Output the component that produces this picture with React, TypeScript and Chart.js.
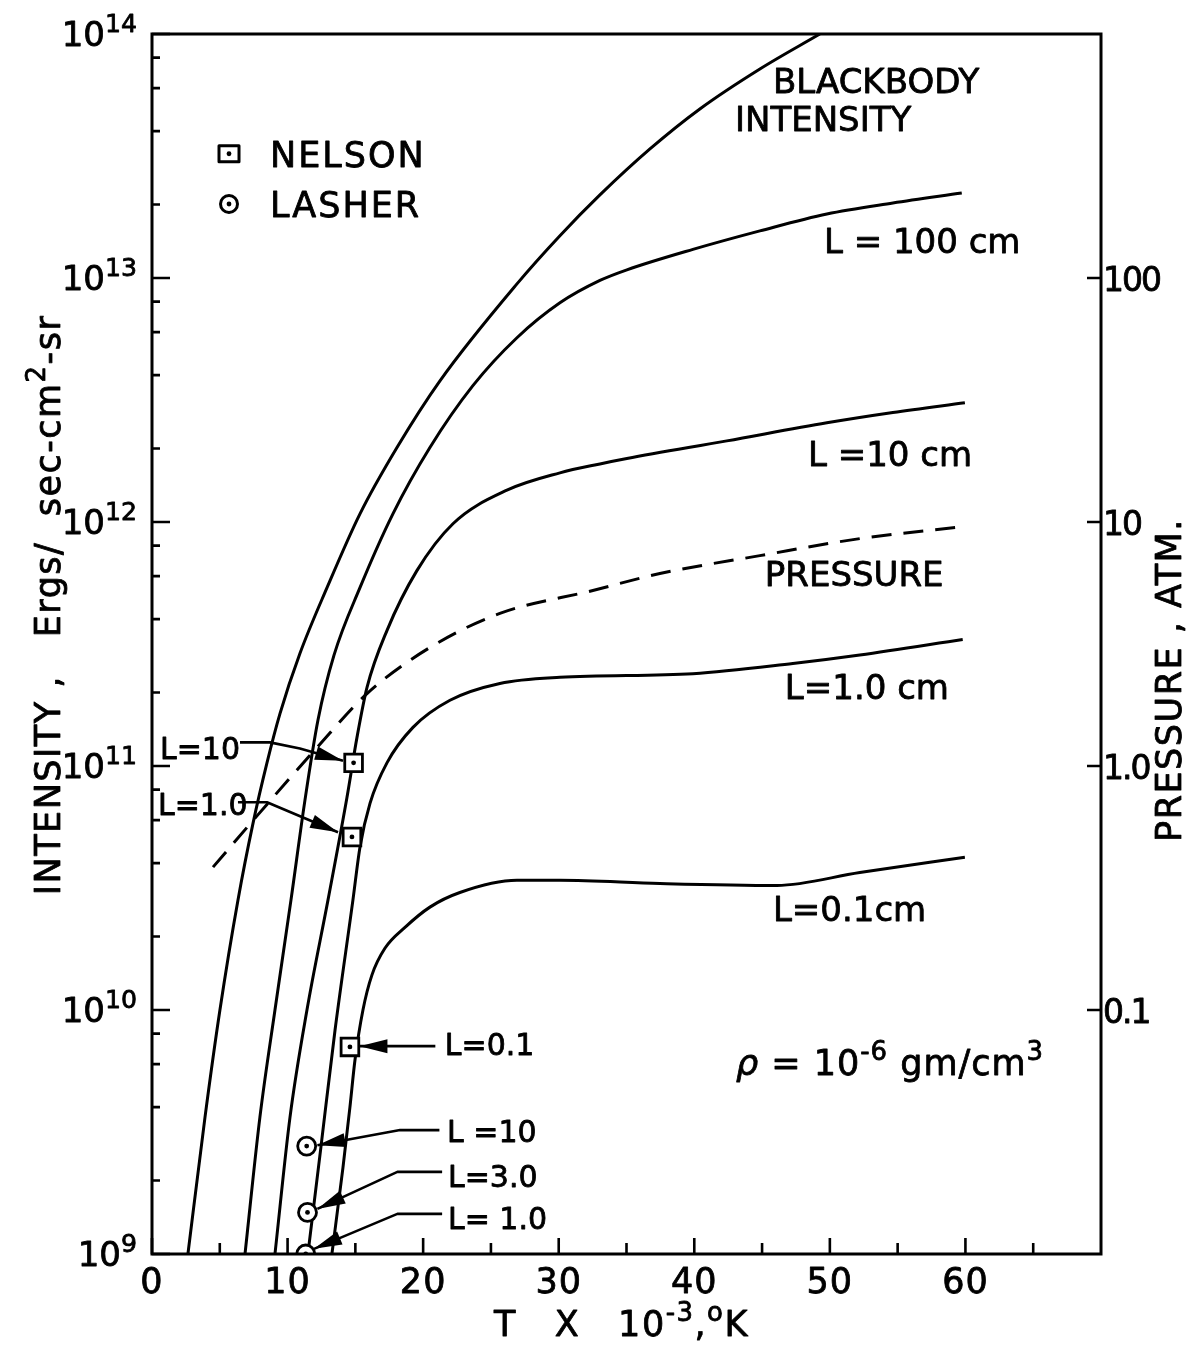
import React, { useEffect, useRef } from "react";
import { Chart, registerables } from "chart.js";

Chart.register(...registerables);

const FONT = '"DejaVu Sans", "Liberation Sans", sans-serif';

// ---------- data: T in 10^3 K, intensity in ergs/sec-cm^2-sr ----------
const blackbodyT = [2.65, 3.91, 5.01, 6.34, 7.45, 8.48, 9.44, 10.91, 12.91, 15.34, 18.07, 21.24, 26.92, 30.09, 33.04, 36.73, 40.41, 44.84, 49.26];
const blackbodyI = [1.0e9, 3.64e9, 1.0e10, 2.82e10, 5.82e10, 1.03e11, 1.64e11, 2.89e11, 5.38e11, 1.08e12, 2.02e12, 3.79e12, 9.46e12, 1.49e13, 2.19e13, 3.38e13, 4.93e13, 7.19e13, 1.0e14];

const l100T = [6.86, 7.96, 9.07, 10.25, 11.28, 12.24, 13.42, 15.34, 17.77, 20.5, 23.67, 26.92, 30.09, 33.04, 35.03, 39.9, 44.84, 49.78, 54.65, 59.73];
const l100I = [1.0e9, 3.64e9, 1.0e10, 2.82e10, 7.23e10, 1.54e11, 2.84e11, 5.38e11, 1.08e12, 2.02e12, 3.62e12, 5.69e12, 7.91e12, 9.77e12, 1.08e13, 1.31e13, 1.56e13, 1.83e13, 2.03e13, 2.23e13];

const l10T = [9.07, 10.18, 11.43, 12.98, 14.38, 15.12, 15.86, 17.33, 19.54, 22.2, 26.18, 30.09, 33.04, 35.03, 42.4, 49.78, 54.65, 59.96];
const l10I = [1.0e9, 3.64e9, 1.0e10, 2.82e10, 7.43e10, 1.31e11, 2.1e11, 3.59e11, 6.32e11, 9.84e11, 1.35e12, 1.59e12, 1.73e12, 1.82e12, 2.15e12, 2.55e12, 2.81e12, 3.08e12];

const l1T = [11.5, 12.46, 13.5, 14.82, 15.34, 16.08, 17.33, 19.25, 21.98, 25.66, 30.09, 39.9, 47.27, 52.21, 59.8];
const l1I = [1.0e9, 2.74e9, 8.26e9, 2.82e10, 4.65e10, 7.03e10, 1.03e11, 1.44e11, 1.86e11, 2.18e11, 2.31e11, 2.39e11, 2.63e11, 2.85e11, 3.3e11];

const l01T = [13.27, 14.09, 14.6, 14.97, 15.56, 16.22, 17.18, 18.66, 20.5, 22.71, 26.92, 30.09, 37.46, 46.09, 52.21, 59.96];
const l01I = [1.0e9, 2.27e9, 4.0e9, 6.22e9, 1.0e10, 1.39e10, 1.79e10, 2.18e10, 2.64e10, 3.03e10, 3.4e10, 3.4e10, 3.3e10, 3.24e10, 3.66e10, 4.23e10];

// pressure (atm), right axis
const pressureT = [4.5, 7.45, 12.17, 15.86, 20.5, 25.66, 32.52, 37.46, 44.84, 52.21, 59.8];
const pressureAtm = [0.385, 0.598, 1.19, 1.98, 3.06, 4.22, 5.24, 6.15, 7.28, 8.55, 9.57];

// experimental points
const nelsonT = [14.87, 14.75, 14.6];
const nelsonI = [1.03e11, 5.12e10, 7.06e9];
const lasherT = [11.41, 11.47, 11.34];
const lasherI = [2.77e9, 1.48e9, 1.0e9];

// ticks
const xMajorTicks = [0, 10, 20, 30, 40, 50, 60];
const xMinorTicks = [5, 15, 25, 35, 45, 55, 65];
const yDecades = [9, 10, 11, 12, 13, 14];
const yMinorMultipliers = [2, 4, 6, 8];
const pressureTicks = [0.1, 1, 10, 100];
const pressureTickLabels = ["0.1", "1.0", "10", "100"];

// annotations (anchored in data coordinates)
const curveLabels = [
  { text: "BLACKBODY", T: 45.8, I: 6.43e13 },
  { text: "INTENSITY", T: 43.0, I: 4.49e13 },
  { text: "L = 100 cm", T: 49.56, I: 1.42e13 },
  { text: "L =10 cm", T: 48.38, I: 1.91e12 },
  { text: "PRESSURE", T: 45.2, I: 6.15e11 },
  { text: "L=1.0 cm", T: 46.68, I: 2.12e11 },
  { text: "L=0.1cm", T: 45.8, I: 2.61e10 },
];

const arrowNotes = [
  { text: "L=10", T: 0.59, I: 1.19e11, path: [[6.49, 1.25e11], [8.7, 1.25e11], [10.91, 1.18e11], [14.09, 1.05e11]] },
  { text: "L=1.0", T: 0.44, I: 6.97e10, path: [[6.34, 7.1e10], [8.48, 7.1e10], [13.72, 5.35e10]] },
  { text: "L=0.1", T: 21.6, I: 7.24e9, path: [[20.9, 7.11e9], [15.3, 7.11e9]] },
  { text: "L =10", T: 21.76, I: 3.19e9, path: [[21.2, 3.22e9], [18.3, 3.22e9], [12.2, 2.79e9]] },
  { text: "L=3.0", T: 21.83, I: 2.08e9, path: [[21.4, 2.17e9], [18.1, 2.17e9], [12.2, 1.53e9]] },
  { text: "L= 1.0", T: 21.83, I: 1.4e9, path: [[21.4, 1.46e9], [18.1, 1.46e9], [11.95, 1.05e9]] },
];

const legendItems = [
  { text: "NELSON", marker: "square", T: 5.68, I: 3.23e13 },
  { text: "LASHER", marker: "circle", T: 5.68, I: 2.01e13 },
];

type Seg = { t: string; sup?: boolean; italic?: boolean };

function segFont(seg: Seg, size: number) {
  const s = seg.sup ? size * 0.74 : size;
  return `${seg.italic ? "italic " : ""}${s}px ${FONT}`;
}

function drawRich(ctx: CanvasRenderingContext2D, segs: Seg[], x: number, y: number, size: number, align: string, spacing = 0) {
  ctx.letterSpacing = `${spacing}px`;
  const widths = segs.map((s) => {
    ctx.font = segFont(s, size);
    return ctx.measureText(s.t).width;
  });
  const total = widths.reduce((a, b) => a + b, 0);
  let cx = align === "left" ? x : align === "right" ? x - total : x - total / 2;
  ctx.textAlign = "left";
  ctx.textBaseline = "alphabetic";
  const lw = ctx.lineWidth;
  ctx.lineWidth = 0.8;
  ctx.lineJoin = "round";
  segs.forEach((s, i) => {
    ctx.font = segFont(s, size);
    const yy = s.sup ? y - size * 0.42 : y;
    ctx.fillText(s.t, cx, yy);
    ctx.strokeText(s.t, cx, yy);
    cx += widths[i];
  });
  ctx.lineWidth = lw;
  ctx.letterSpacing = "0px";
}

function drawArrowHead(ctx: CanvasRenderingContext2D, fx: number, fy: number, tx: number, ty: number, len: number, half: number) {
  const a = Math.atan2(ty - fy, tx - fx);
  const bx = tx - len * Math.cos(a);
  const by = ty - len * Math.sin(a);
  ctx.beginPath();
  ctx.moveTo(tx, ty);
  ctx.lineTo(bx + half * Math.sin(a), by - half * Math.cos(a));
  ctx.lineTo(bx - half * Math.sin(a), by + half * Math.cos(a));
  ctx.closePath();
  ctx.fill();
}

const decorPlugin = {
  id: "decor",
  beforeDraw(chart: any) {
    const { ctx, width, height } = chart;
    ctx.save();
    ctx.fillStyle = "#fff";
    ctx.fillRect(0, 0, width, height);
    ctx.restore();
  },
  afterDatasetsDraw(chart: any) {
    const ctx: CanvasRenderingContext2D = chart.ctx;
    const { left, right, top, bottom } = chart.chartArea;
    const xs = chart.scales.x;
    const ys = chart.scales.y;
    const ps = chart.scales.y2;
    const X = (t: number) => xs.getPixelForValue(t);
    const Y = (v: number) => ys.getPixelForValue(v);

    ctx.save();
    ctx.strokeStyle = "#000";
    ctx.fillStyle = "#000";
    ctx.lineWidth = 3;
    ctx.lineCap = "butt";

    // frame
    ctx.strokeRect(left, top, right - left, bottom - top);

    // inward tick marks
    ctx.lineWidth = 2.6;
    ctx.beginPath();
    xMajorTicks.forEach((t) => {
      const px = X(t);
      ctx.moveTo(px, bottom);
      ctx.lineTo(px, bottom - 16);
    });
    xMinorTicks.forEach((t) => {
      const px = X(t);
      ctx.moveTo(px, bottom);
      ctx.lineTo(px, bottom - 11);
    });
    yDecades.forEach((d) => {
      const py = Y(Math.pow(10, d));
      ctx.moveTo(left, py);
      ctx.lineTo(left + 18, py);
      if (d < 14) {
        yMinorMultipliers.forEach((m) => {
          const pm = Y(m * Math.pow(10, d));
          ctx.moveTo(left, pm);
          ctx.lineTo(left + 8, pm);
        });
      }
    });
    pressureTicks.forEach((p) => {
      const py = ps.getPixelForValue(p);
      ctx.moveTo(right, py);
      ctx.lineTo(right - 14, py);
    });
    ctx.stroke();

    // tick labels
    xMajorTicks.forEach((t) => drawRich(ctx, [{ t: String(t) }], X(t), bottom + 39, 35, "center", 1));
    yDecades.forEach((d) => {
      const py = Y(Math.pow(10, d));
      drawRich(ctx, [{ t: "10" }, { t: String(d), sup: true }], left - 15, py + 12, 34, "right", 0);
    });
    pressureTicks.forEach((p, i) => {
      const py = ps.getPixelForValue(p);
      drawRich(ctx, [{ t: pressureTickLabels[i] }], right + 2, py + 13, 33, "left", -2);
    });

    // axis titles
    drawRich(ctx, [{ t: "T   X   10" }, { t: "-3", sup: true }, { t: "," }, { t: "o", sup: true }, { t: "K" }], 494, 1336, 35, "left", 1.5);

    ctx.save();
    ctx.translate(47, 605);
    ctx.rotate(-Math.PI / 2);
    drawRich(ctx, [{ t: "INTENSITY ,   Ergs/  sec-cm" }, { t: "2", sup: true }, { t: "-sr" }], 0, 13, 35, "center", 1.5);
    ctx.restore();

    ctx.save();
    ctx.translate(1168, 680);
    ctx.rotate(-Math.PI / 2);
    drawRich(ctx, [{ t: "PRESSURE , ATM." }], 0, 13, 35, "center", 1.5);
    ctx.restore();

    // curve labels
    curveLabels.forEach((c) => drawRich(ctx, [{ t: c.text }], X(c.T), Y(c.I) + 12.5, 34, "left", 0));

    // density note
    drawRich(
      ctx,
      [{ t: "\u03C1", italic: true }, { t: " = 10" }, { t: "-6", sup: true }, { t: " gm/cm" }, { t: "3", sup: true }],
      X(43.07),
      Y(5.41e9),
      35,
      "left",
      1
    );

    // arrows with labels
    ctx.lineWidth = 2.6;
    arrowNotes.forEach((a) => {
      drawRich(ctx, [{ t: a.text }], X(a.T), Y(a.I) + 11, 30, "left", 0);
      const pts = a.path.map((p) => [X(p[0]), Y(p[1])]);
      const n = pts.length;
      const [fx, fy] = pts[n - 2];
      const [tx, ty] = pts[n - 1];
      ctx.lineWidth = 2.6;
      ctx.beginPath();
      ctx.moveTo(pts[0][0], pts[0][1]);
      for (let i = 1; i < n; i++) ctx.lineTo(pts[i][0], pts[i][1]);
      ctx.stroke();
      drawArrowHead(ctx, fx, fy, tx, ty, 28, 7);
    });

    // legend
    legendItems.forEach((l) => {
      const px = X(l.T);
      const py = Y(l.I);
      ctx.lineWidth = 3;
      ctx.beginPath();
      if (l.marker === "square") ctx.rect(px - 10, py - 8, 20, 16);
      else ctx.arc(px, py, 8.5, 0, Math.PI * 2);
      ctx.stroke();
      ctx.beginPath();
      ctx.arc(px, py, 2.4, 0, Math.PI * 2);
      ctx.fill();
      drawRich(ctx, [{ t: l.text }], X(8.7), py + 13, 35, "left", 2);
    });

    ctx.restore();
  },
};

function pts(T: number[], V: number[]) {
  return T.map((t, i) => ({ x: t, y: V[i] }));
}

function curve(label: string, T: number[], V: number[], axis = "y", dash: number[] = []) {
  return {
    label,
    data: pts(T, V),
    yAxisID: axis,
    borderColor: "#000",
    borderWidth: 3,
    borderDash: dash,
    pointRadius: 0,
    fill: false,
    cubicInterpolationMode: "monotone",
    order: 2,
  };
}

export default function App() {
  const ref = useRef<HTMLCanvasElement>(null);

  useEffect(() => {
    const canvas = ref.current;
    if (!canvas) return;
    const chart = new Chart(canvas, {
      type: "line",
      data: {
        datasets: [
          curve("Blackbody intensity", blackbodyT, blackbodyI),
          curve("L = 100 cm", l100T, l100I),
          curve("L = 10 cm", l10T, l10I),
          curve("L = 1.0 cm", l1T, l1I),
          curve("L = 0.1 cm", l01T, l01I),
          curve("Pressure", pressureT, pressureAtm, "y2", [20, 12]),
          {
            label: "Nelson",
            data: pts(nelsonT, nelsonI),
            yAxisID: "y",
            showLine: false,
            pointStyle: "rect",
            pointRadius: 12.5,
            pointBorderWidth: 2.8,
            pointBorderColor: "#000",
            pointBackgroundColor: "#fff",
            clip: 0,
            order: 1,
          },
          {
            label: "Nelson centre",
            data: pts(nelsonT, nelsonI),
            yAxisID: "y",
            showLine: false,
            pointStyle: "circle",
            pointRadius: 2.4,
            pointBorderWidth: 0,
            pointBackgroundColor: "#000",
            clip: 0,
            order: 0,
          },
          {
            label: "Lasher",
            data: pts(lasherT, lasherI),
            yAxisID: "y",
            showLine: false,
            pointStyle: "circle",
            pointRadius: 9,
            pointBorderWidth: 2.8,
            pointBorderColor: "#000",
            pointBackgroundColor: "#fff",
            clip: 0,
            order: 1,
          },
          {
            label: "Lasher centre",
            data: pts(lasherT, lasherI),
            yAxisID: "y",
            showLine: false,
            pointStyle: "circle",
            pointRadius: 2.4,
            pointBorderWidth: 0,
            pointBackgroundColor: "#000",
            clip: 0,
            order: 0,
          },
        ] as any,
      },
      options: {
        responsive: false,
        animation: false,
        devicePixelRatio: 1,
        events: [],
        layout: { padding: { left: 152, right: 103, top: 34, bottom: 96 } },
        plugins: { legend: { display: false }, tooltip: { enabled: false } },
        scales: {
          x: { type: "linear", min: 0, max: 70, display: false },
          y: { type: "logarithmic", min: 1e9, max: 1e14, display: false },
          y2: { type: "logarithmic", min: 0.01, max: 1000, display: false, position: "right" },
        },
      } as any,
      plugins: [decorPlugin],
    });
    return () => chart.destroy();
  }, []);

  return (
    <div style={{ position: "absolute", left: 0, top: 0, width: 1204, height: 1350, background: "#fff" }}>
      <canvas ref={ref} width={1204} height={1350} style={{ display: "block", width: 1204, height: 1350 }} />
    </div>
  );
}
